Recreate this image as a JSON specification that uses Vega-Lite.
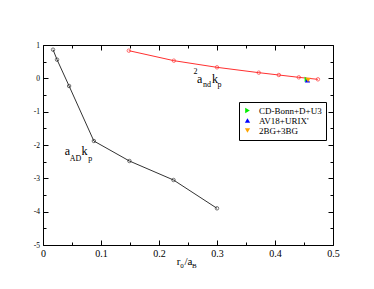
{
  "$schema": "https://vega.github.io/schema/vega-lite/v6.json",
  "width": 290,
  "height": 200,
  "autosize": {"type": "none"},
  "padding": {"left": 43, "top": 45, "right": 41, "bottom": 44},
  "background": "white",
  "config": {
    "view": {"stroke": "black", "strokeWidth": 1},
    "font": "Liberation Serif",
    "axis": {"domain": false, "grid": false, "tickColor": "black", "labelColor": "black", "labelFont": "Liberation Serif", "tickWidth": 1, "title": null}
  },
  "datasets": {
    "ad": [
      {"x": 0.0173, "y": 0.86},
      {"x": 0.0242, "y": 0.56},
      {"x": 0.045, "y": -0.23},
      {"x": 0.0877, "y": -1.88},
      {"x": 0.149, "y": -2.48},
      {"x": 0.225, "y": -3.05},
      {"x": 0.3, "y": -3.9}
    ],
    "nd": [
      {"x": 0.148, "y": 0.83},
      {"x": 0.2256, "y": 0.53},
      {"x": 0.3, "y": 0.33},
      {"x": 0.372, "y": 0.17},
      {"x": 0.4066, "y": 0.1},
      {"x": 0.441, "y": 0.03},
      {"x": 0.474, "y": -0.03}
    ],
    "models": [
      {"model": "CD-Bonn+D+U3", "x": 0.455, "y": -0.03},
      {"model": "AV18+URIX'", "x": 0.456, "y": -0.06},
      {"model": "2BG+3BG", "x": 0.457, "y": -0.05}
    ],
    "labels": [
      {"text": "a", "x": 0.0375, "y": -2.3, "role": "main"},
      {"text": "AD", "x": 0.0462, "y": -2.465, "role": "small"},
      {"text": "k", "x": 0.0664, "y": -2.3, "role": "main"},
      {"text": "p", "x": 0.0779, "y": -2.465, "role": "small"},
      {"text": "2", "x": 0.2595, "y": 0.13, "role": "small"},
      {"text": "a", "x": 0.2654, "y": -0.149, "role": "main"},
      {"text": "nd", "x": 0.2758, "y": -0.269, "role": "small"},
      {"text": "k", "x": 0.2913, "y": -0.149, "role": "main"},
      {"text": "p", "x": 0.301, "y": -0.269, "role": "small"},
      {"text": "r", "x": 0.2308, "y": -5.6, "role": "title"},
      {"text": "0", "x": 0.2368, "y": -5.675, "role": "tiny"},
      {"text": "/a", "x": 0.2438, "y": -5.6, "role": "title"},
      {"text": "B", "x": 0.2568, "y": -5.68, "role": "tiny"}
    ]
  },
  "layer": [
    {
      "data": {"name": "ad"},
      "mark": {"type": "line", "color": "#333333", "strokeWidth": 1},
      "encoding": {
        "x": {"field": "x", "type": "quantitative", "scale": {"domain": [0, 0.5], "nice": false, "zero": false},
              "axis": {"orient": "bottom", "values": [0, 0.1, 0.2, 0.3, 0.4, 0.5], "tickSize": -5, "labelFontSize": 10, "labelPadding": 8, "format": ".1~f", "labelFlush": false}},
        "y": {"field": "y", "type": "quantitative", "scale": {"domain": [-5, 1], "nice": false, "zero": false},
              "axis": {"orient": "left", "values": [-5, -4, -3, -2, -1, 0, 1], "tickSize": -5, "labelFontSize": 7.5, "labelPadding": 8.5, "labelExpr": "'' + datum.value", "labelFlush": false}}
      }
    },
    {
      "data": {"name": "ad"},
      "mark": {"type": "point", "shape": "circle", "filled": false, "stroke": "#333333", "strokeWidth": 1, "size": 12},
      "encoding": {
        "x": {"field": "x", "type": "quantitative", "axis": {"orient": "top", "values": [0, 0.1, 0.2, 0.3, 0.4, 0.5], "tickSize": -5, "labels": false}},
        "y": {"field": "y", "type": "quantitative", "axis": {"orient": "right", "values": [-5, -4, -3, -2, -1, 0, 1], "tickSize": -5, "labels": false}}
      }
    },
    {
      "data": {"name": "nd"},
      "mark": {"type": "line", "color": "#ff3030", "strokeWidth": 1},
      "encoding": {
        "x": {"field": "x", "type": "quantitative", "axis": {"orient": "bottom", "values": [0.05, 0.15, 0.25, 0.35, 0.45], "tickSize": -3, "labels": false}},
        "y": {"field": "y", "type": "quantitative", "axis": {"orient": "left", "values": [-4.5, -3.5, -2.5, -1.5, -0.5, 0.5], "tickSize": -3, "labels": false}}
      }
    },
    {
      "data": {"name": "nd"},
      "mark": {"type": "point", "shape": "circle", "filled": false, "stroke": "#ff3030", "strokeWidth": 1, "size": 12},
      "encoding": {
        "x": {"field": "x", "type": "quantitative", "axis": {"orient": "top", "values": [0.05, 0.15, 0.25, 0.35, 0.45], "tickSize": -3, "labels": false}},
        "y": {"field": "y", "type": "quantitative", "axis": {"orient": "right", "values": [-4.5, -3.5, -2.5, -1.5, -0.5, 0.5], "tickSize": -3, "labels": false}}
      }
    },
    {
      "data": {"name": "models"},
      "mark": {"type": "point", "filled": true, "size": 28, "opacity": 1},
      "encoding": {
        "x": {"field": "x", "type": "quantitative", "axis": null},
        "y": {"field": "y", "type": "quantitative", "axis": null},
        "color": {"field": "model", "type": "nominal",
                  "scale": {"domain": ["CD-Bonn+D+U3", "AV18+URIX'", "2BG+3BG"], "range": ["#00ee00", "#0000ff", "#ffa500"]},
                  "legend": {"orient": "none", "legendX": 196, "legendY": 57, "title": null, "labelFont": "Liberation Serif", "labelFontSize": 9, "labelColor": "black", "symbolSize": 28, "strokeColor": "black", "fillColor": "white", "padding": 4, "rowPadding": 0, "labelOffset": 7, "symbolStrokeWidth": 0}},
        "shape": {"field": "model", "type": "nominal",
                  "scale": {"domain": ["CD-Bonn+D+U3", "AV18+URIX'", "2BG+3BG"], "range": ["triangle-right", "triangle-up", "triangle-down"]},
                  "legend": {"orient": "none", "legendX": 196, "legendY": 57, "title": null, "labelFont": "Liberation Serif", "labelFontSize": 9, "labelColor": "black", "symbolSize": 28, "strokeColor": "black", "fillColor": "white", "padding": 4, "rowPadding": 0, "labelOffset": 7, "symbolStrokeWidth": 0}},
        "order": {"field": "x", "type": "quantitative"}
      }
    },
    {
      "data": {"name": "labels"},
      "transform": [{"filter": "datum.role == 'main'"}],
      "mark": {"type": "text", "align": "left", "baseline": "alphabetic", "fontSize": 12, "font": "Liberation Serif", "color": "black"},
      "encoding": {
        "x": {"field": "x", "type": "quantitative", "axis": null},
        "y": {"field": "y", "type": "quantitative", "axis": null},
        "text": {"field": "text"}
      }
    },
    {
      "data": {"name": "labels"},
      "transform": [{"filter": "datum.role == 'title'"}],
      "mark": {"type": "text", "align": "left", "baseline": "alphabetic", "fontSize": 11, "font": "Liberation Serif", "color": "black"},
      "encoding": {
        "x": {"field": "x", "type": "quantitative", "axis": null},
        "y": {"field": "y", "type": "quantitative", "axis": null},
        "text": {"field": "text"}
      }
    },
    {
      "data": {"name": "labels"},
      "transform": [{"filter": "datum.role == 'small'"}],
      "mark": {"type": "text", "align": "left", "baseline": "alphabetic", "fontSize": 8, "font": "Liberation Serif", "color": "black"},
      "encoding": {
        "x": {"field": "x", "type": "quantitative", "axis": null},
        "y": {"field": "y", "type": "quantitative", "axis": null},
        "text": {"field": "text"}
      }
    },
    {
      "data": {"name": "labels"},
      "transform": [{"filter": "datum.role == 'tiny'"}],
      "mark": {"type": "text", "align": "left", "baseline": "alphabetic", "fontSize": 7, "font": "Liberation Serif", "color": "black"},
      "encoding": {
        "x": {"field": "x", "type": "quantitative", "axis": null},
        "y": {"field": "y", "type": "quantitative", "axis": null},
        "text": {"field": "text"}
      }
    }
  ],
  "resolve": {"axis": {"x": "independent", "y": "independent"}}
}
